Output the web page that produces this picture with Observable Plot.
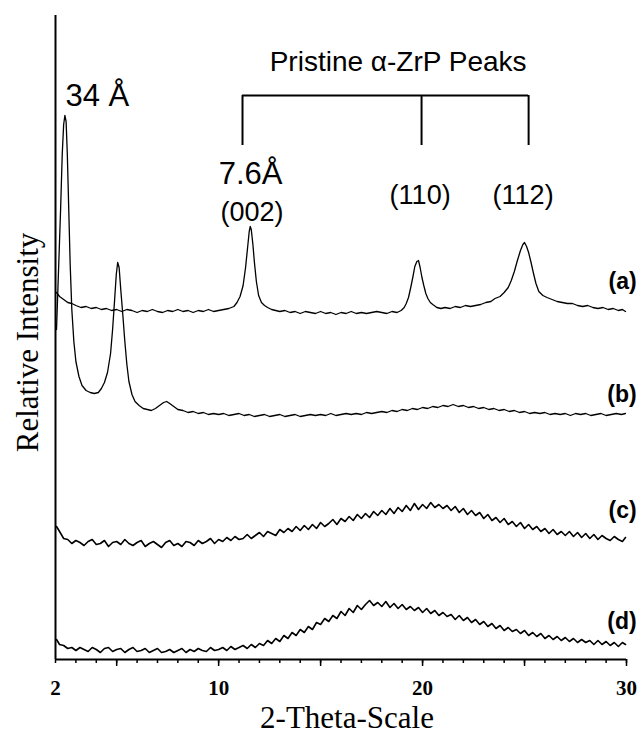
<!DOCTYPE html>
<html><head><meta charset="utf-8">
<script src="https://cdn.jsdelivr.net/npm/d3@7"></script>
<script src="https://cdn.jsdelivr.net/npm/@observablehq/plot@0.6"></script>
<style>body{margin:0;background:#fff}</style>
</head><body><div id="chart"></div>
<script>
// 2-theta (deg) vs relative intensity (arbitrary units, traces offset)
const traceA = [[2.05,367],[2.2,363],[2.4,360],[2.6,357],[2.8,356],[3.0,354],[3.25,352],[3.5,353],[3.75,351],[4.0,352],[4.25,350],[4.5,351],[4.75,349],[5.0,350],[5.25,348],[5.5,350],[5.75,349],[6.0,347],[6.25,349],[6.5,348],[6.75,350],[7.0,348],[7.25,347],[7.5,349],[7.75,348],[8.0,350],[8.25,348],[8.5,349],[8.75,347],[9.0,349],[9.25,348],[9.5,350],[9.75,348],[10.0,349],[10.25,350],[10.5,351],[10.75,353],[10.9,357],[11.05,363],[11.2,374],[11.32,392],[11.42,412],[11.5,428],[11.55,433],[11.6,430],[11.68,415],[11.75,398],[11.85,378],[11.96,364],[12.1,357],[12.25,354],[12.4,352],[12.6,350],[12.8,349],[13.0,348],[13.25,349],[13.5,347],[13.75,348],[14.0,346],[14.25,348],[14.5,347],[14.75,346],[15.0,348],[15.25,346],[15.5,347],[15.75,345],[16.0,347],[16.25,346],[16.5,348],[16.75,346],[17.0,347],[17.25,346],[17.5,347],[17.75,348],[18.0,347],[18.25,346],[18.5,348],[18.75,347],[18.95,349],[19.1,352],[19.2,356],[19.31,362],[19.42,372],[19.52,382],[19.62,393],[19.72,398],[19.8,399],[19.88,392],[19.97,382],[20.06,374],[20.16,366],[20.26,361],[20.38,357],[20.5,355],[20.7,352],[20.9,351],[21.1,352],[21.35,351],[21.6,353],[21.85,352],[22.1,354],[22.35,353],[22.6,354],[22.85,355],[23.1,357],[23.35,358],[23.55,361],[23.8,363],[24.0,367],[24.2,372],[24.35,379],[24.5,388],[24.65,399],[24.8,409],[24.92,415],[25.0,417],[25.1,413],[25.2,407],[25.32,397],[25.44,386],[25.56,376],[25.7,368],[25.9,364],[26.1,362],[26.35,360],[26.6,358],[26.85,357],[27.1,356],[27.35,356],[27.6,354],[27.85,353],[28.1,354],[28.35,352],[28.6,351],[28.85,352],[29.1,350],[29.35,351],[29.6,349],[29.8,350],[29.95,348]];

const traceB = [[2.05,330],[2.15,390],[2.25,450],[2.33,505],[2.4,535],[2.46,544],[2.52,538],[2.58,505],[2.65,450],[2.72,395],[2.8,350],[2.9,318],[3.0,298],[3.15,283],[3.3,274],[3.5,269],[3.7,267],[3.9,266],[4.1,267],[4.25,271],[4.4,277],[4.55,287],[4.7,306],[4.8,330],[4.9,360],[4.98,385],[5.05,397],[5.12,392],[5.2,370],[5.3,345],[5.4,318],[5.5,295],[5.6,278],[5.75,265],[5.9,258],[6.1,254],[6.3,251],[6.5,250],[6.7,249],[6.9,251],[7.1,254],[7.3,257],[7.45,258],[7.6,256],[7.8,253],[8.0,250],[8.25,249],[8.5,247],[8.75,248],[9.0,246],[9.25,247],[9.5,245],[9.75,246],[10.0,245],[10.25,246],[10.5,244],[10.75,245],[11.0,246],[11.25,244],[11.5,245],[11.75,243],[12.0,244],[12.25,245],[12.5,243],[12.75,244],[13.0,245],[13.25,243],[13.5,244],[13.75,245],[14.0,243],[14.25,244],[14.5,245],[14.75,244],[15.0,245],[15.25,244],[15.5,246],[15.75,244],[16.0,245],[16.25,246],[16.5,245],[16.75,246],[17.0,245],[17.25,247],[17.5,246],[17.75,247],[18.0,248],[18.25,247],[18.5,249],[18.75,248],[19.0,250],[19.25,249],[19.5,251],[19.75,250],[20.0,252],[20.25,251],[20.5,253],[20.75,252],[21.0,254],[21.25,253],[21.5,255],[21.75,253],[22.0,254],[22.25,252],[22.5,253],[22.75,251],[23.0,252],[23.25,250],[23.5,251],[23.75,249],[24.0,250],[24.25,248],[24.5,249],[24.75,247],[25.0,248],[25.25,246],[25.5,247],[25.75,246],[26.0,247],[26.25,245],[26.5,246],[26.75,245],[27.0,246],[27.25,244],[27.5,246],[27.75,245],[28.0,246],[28.25,244],[28.5,245],[28.75,246],[29.0,244],[29.25,245],[29.5,246],[29.75,245],[29.95,246]];

const traceC = [[2.05,133],[2.2,128],[2.4,121],[2.6,120],[2.8,116],[3.0,119],[3.2,117],[3.4,114],[3.6,118],[3.8,120],[4.0,115],[4.2,116],[4.4,119],[4.6,113],[4.8,117],[5.0,118],[5.2,115],[5.4,120],[5.6,116],[5.8,114],[6.0,117],[6.2,119],[6.4,113],[6.6,116],[6.8,118],[7.0,115],[7.2,112],[7.4,117],[7.6,119],[7.8,114],[8.0,116],[8.2,113],[8.4,118],[8.6,117],[8.8,114],[9.0,119],[9.2,116],[9.4,118],[9.6,121],[9.8,116],[10.0,120],[10.2,118],[10.4,122],[10.6,119],[10.8,123],[11.0,120],[11.2,121],[11.4,125],[11.6,121],[11.8,124],[12.0,127],[12.2,123],[12.4,128],[12.6,126],[12.8,124],[13.0,130],[13.2,127],[13.4,131],[13.6,128],[13.8,133],[14.0,129],[14.2,134],[14.4,130],[14.6,135],[14.8,131],[15.0,137],[15.2,133],[15.4,136],[15.6,140],[15.8,135],[16.0,141],[16.2,138],[16.4,143],[16.6,139],[16.8,145],[17.0,141],[17.2,146],[17.4,142],[17.6,148],[17.8,144],[18.0,149],[18.2,145],[18.4,151],[18.6,146],[18.8,152],[19.0,148],[19.2,154],[19.4,149],[19.6,156],[19.8,150],[20.0,155],[20.2,151],[20.4,157],[20.6,152],[20.8,155],[21.0,151],[21.2,154],[21.4,149],[21.6,153],[21.8,147],[22.0,151],[22.2,145],[22.4,149],[22.6,144],[22.8,147],[23.0,141],[23.2,145],[23.4,139],[23.6,142],[23.8,137],[24.0,141],[24.2,135],[24.4,138],[24.6,133],[24.8,137],[25.0,131],[25.2,135],[25.4,130],[25.6,133],[25.8,128],[26.0,131],[26.2,126],[26.4,130],[26.6,125],[26.8,128],[27.0,124],[27.2,128],[27.4,123],[27.6,127],[27.8,122],[28.0,126],[28.2,121],[28.4,125],[28.6,120],[28.8,124],[29.0,121],[29.2,119],[29.4,123],[29.6,120],[29.8,118],[29.95,122]];

const traceD = [[2.05,20],[2.2,15],[2.4,14],[2.6,11],[2.8,12],[3.0,9],[3.2,12],[3.4,10],[3.6,8],[3.8,12],[4.0,10],[4.2,7],[4.4,11],[4.6,12],[4.8,8],[5.0,10],[5.2,11],[5.4,7],[5.6,10],[5.8,12],[6.0,8],[6.2,9],[6.4,11],[6.6,7],[6.8,9],[7.0,11],[7.2,7],[7.4,8],[7.6,10],[7.8,7],[8.0,9],[8.2,11],[8.4,7],[8.6,10],[8.8,8],[9.0,11],[9.2,9],[9.4,8],[9.6,12],[9.8,9],[10.0,10],[10.2,12],[10.4,9],[10.6,13],[10.8,10],[11.0,12],[11.2,14],[11.4,11],[11.6,15],[11.8,12],[12.0,16],[12.2,14],[12.4,19],[12.6,16],[12.8,21],[13.0,18],[13.2,24],[13.4,21],[13.6,27],[13.8,24],[14.0,30],[14.2,27],[14.4,33],[14.6,30],[14.8,37],[15.0,35],[15.2,41],[15.4,38],[15.6,44],[15.8,41],[16.0,48],[16.2,44],[16.4,51],[16.6,47],[16.8,54],[17.0,50],[17.2,55],[17.4,59],[17.6,54],[17.8,57],[18.0,53],[18.2,58],[18.4,52],[18.6,56],[18.8,51],[19.0,55],[19.2,50],[19.4,53],[19.6,49],[19.8,52],[20.0,47],[20.2,51],[20.4,46],[20.6,49],[20.8,44],[21.0,47],[21.2,43],[21.4,45],[21.6,40],[21.8,44],[22.0,39],[22.2,42],[22.4,37],[22.6,40],[22.8,35],[23.0,38],[23.2,33],[23.4,36],[23.6,31],[23.8,34],[24.0,29],[24.2,32],[24.4,28],[24.6,30],[24.8,26],[25.0,29],[25.2,24],[25.4,27],[25.6,23],[25.8,26],[26.0,21],[26.2,24],[26.4,20],[26.6,23],[26.8,19],[27.0,22],[27.2,18],[27.4,21],[27.6,17],[27.8,20],[28.0,17],[28.2,19],[28.4,15],[28.6,19],[28.8,15],[29.0,18],[29.2,14],[29.4,17],[29.6,13],[29.8,17],[29.95,15]];

const sampleNames = ["(a)", "(b)", "(c)", "(d)"];
const sampleLabelLevels = [378, 265, 149, 38];
const xTickLabels = [2, 10, 20, 30];
const xMajorTicks = [5, 10, 15, 20, 25, 30];
const xMinorTicks = [2,3,4,5,6,7,8,9,10,11,12,13,14,15,16,17,18,19,20,21,22,23,24,25,26,27,28,29,30];
const bracketTicks = [11.17, 19.95, 25.2];
const peakLabels = [
  {x: 11.64, y: 447, text: "(002)"},
  {x: 19.88, y: 464, text: "(110)"},
  {x: 24.93, y: 464, text: "(112)"}
];
const dLabels = [
  {x: 2.49, y: 563, text: "34 Å"},
  {x: 10.0, y: 485, text: "7.6Å"}
];

const traces = [traceA, traceB, traceC, traceD];
const traceWidths = [1.3, 1.3, 1.6, 1.6];
const SANS = "Liberation Sans, Arial, sans-serif";
const SERIF = "Liberation Serif, Times New Roman, serif";

const chart = Plot.plot({
  width: 642,
  height: 742,
  marginLeft: 55,
  marginRight: 16,
  marginTop: 15,
  marginBottom: 83,
  x: {domain: [2, 30], axis: null},
  y: {domain: [0, 644], axis: null},
  style: {background: "white", overflow: "visible"},
  marks: [
    ...traces.map((t, i) => Plot.line(t, {x: d => d[0], y: d => d[1], stroke: "black", strokeWidth: traceWidths[i]})),
    Plot.ruleY([0], {stroke: "black", strokeWidth: 2}),
    Plot.ruleX([2], {stroke: "black", strokeWidth: 2}),
    Plot.axisX(xMinorTicks, {tickSize: 4, strokeWidth: 1.5, tickFormat: () => "", label: null}),
    Plot.axisX(xMajorTicks, {tickSize: 7, strokeWidth: 1.5, tickFormat: () => "", label: null}),
    Plot.axisX(xTickLabels, {tickSize: 0, tickPadding: 21, fontSize: 21, fontWeight: "bold", fontFamily: SERIF, fill: "black", label: null}),
    Plot.text(["2-Theta-Scale"], {frameAnchor: "bottom", textAnchor: "middle", dx: 6, dy: 59, fontSize: 31, fontFamily: SERIF, fill: "black", lineAnchor: "middle"}),
    Plot.text(["Relative Intensity"], {frameAnchor: "left", textAnchor: "middle", dx: -27, dy: 5, rotate: -90, fontSize: 31, fontFamily: SERIF, fill: "black", lineAnchor: "middle"}),
    // bracket for pristine peaks
    Plot.ruleY([564], {x1: bracketTicks[0], x2: bracketTicks[2], stroke: "black", strokeWidth: 2}),
    Plot.ruleX(bracketTicks, {y1: 514, y2: 564, stroke: "black", strokeWidth: 2}),
    Plot.text(["Pristine α-ZrP Peaks"], {x: 18.8, y: 597, fontSize: 28, fontFamily: SANS, fill: "black", lineAnchor: "middle"}),
    Plot.text(dLabels, {x: "x", y: "y", text: "text", textAnchor: "start", fontSize: 31, fontFamily: SANS, fill: "black", lineAnchor: "middle"}),
    Plot.text(peakLabels, {x: "x", y: "y", text: "text", fontSize: 27, fontFamily: SANS, fill: "black", lineAnchor: "middle"}),
    Plot.text(sampleNames, {x: 30.5, y: (d, i) => sampleLabelLevels[i], text: d => d, textAnchor: "end", fontSize: 23, fontWeight: "bold", fontFamily: SANS, fill: "black", lineAnchor: "middle"})
  ]
});
document.getElementById("chart").appendChild(chart);
</script>
</body></html>
